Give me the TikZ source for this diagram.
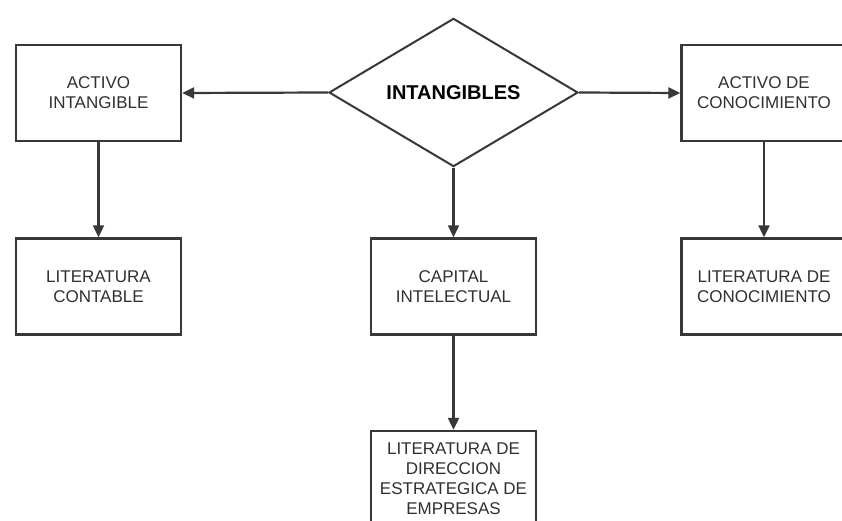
\documentclass[tikz,border=0pt]{standalone}
\usepackage{fontspec}
\setmainfont{Liberation Sans}
\usetikzlibrary{shapes.geometric,arrows.meta}
\definecolor{lineas}{HTML}{383838}
\definecolor{texto}{HTML}{303030}
\tikzset{
    caja/.style={draw=lineas, line width=2.4pt, minimum width=165pt, minimum height=96pt,
        align=center, text=texto, font=\fontsize{17}{20}\selectfont, inner sep=0pt},
    rombo/.style={diamond, draw=lineas, line width=2pt, minimum width=249pt, minimum height=145pt,
        inner sep=0pt, text=black, font=\fontsize{20}{24}\selectfont\bfseries},
    flecha/.style={draw=lineas, line width=2.2pt, -{Triangle[length=12pt,width=11pt]}}
}
\begin{document}
\begin{tikzpicture}[x=1pt,y=-1pt]
    % Page frame (the two right boxes and the bottom box run past it)
    \fill[white] (0,0) rectangle (842,521);
    \clip (0,0) rectangle (842,521);

    % Centre
    \node[rombo] (intang) at (453.5,92.5) {INTANGIBLES};

    % Top row
    \node[caja] (activo) at (98.5,93) {ACTIVO\\INTANGIBLE};
    \node[caja] (conoc) at (764,93) {ACTIVO DE\\CONOCIMIENTO};

    % Second row
    \node[caja] (contable) at (98.5,286.5) {LITERATURA\\CONTABLE};
    \node[caja] (capital) at (453.5,286.5) {CAPITAL\\INTELECTUAL};
    \node[caja] (litcon) at (764,286.5) {LITERATURA DE\\CONOCIMIENTO};

    % Bottom
    \node[caja] (direccion) at (453.5,479) {LITERATURA DE\\DIRECCION\\ESTRATEGICA DE\\EMPRESAS};

    % Arrows
    \draw[flecha] (intang.west) -- (activo.east);
    \draw[flecha] (intang.east) -- (conoc.west);
    \draw[flecha] (intang.south) -- (capital.north);
    \draw[flecha] (activo.south) -- (contable.north);
    \draw[flecha] (conoc.south) -- (litcon.north);
    \draw[flecha] (capital.south) -- (direccion.north);
\end{tikzpicture}
\end{document}
